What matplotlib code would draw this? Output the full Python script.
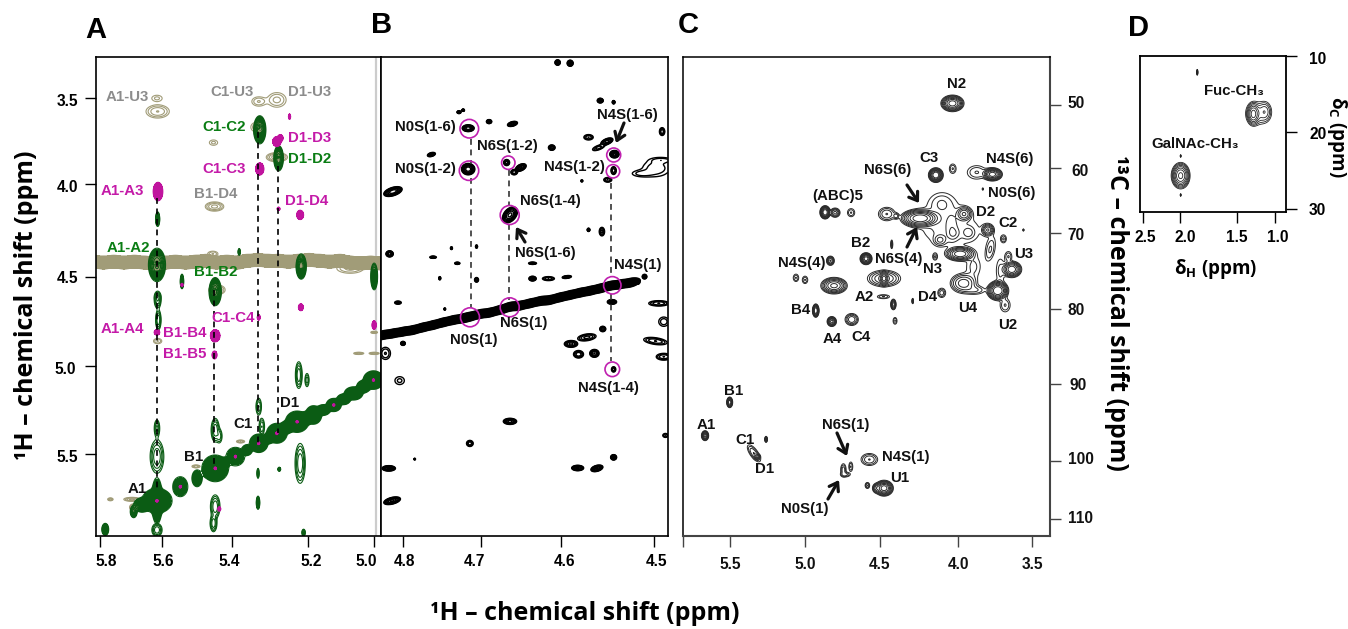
import numpy as np
import matplotlib
matplotlib.use("Agg")
import matplotlib.pyplot as plt
from matplotlib.transforms import Affine2D

W, H = 1348, 629
plt.rcParams['font.family'] = ['Liberation Sans', 'DejaVu Sans']
plt.rcParams['font.weight'] = 'bold'
plt.rcParams['mathtext.fontset'] = 'custom'
plt.rcParams['mathtext.rm'] = 'Open Sans:bold'
plt.rcParams['mathtext.bf'] = 'Open Sans:bold'
plt.rcParams['mathtext.it'] = 'Open Sans:bold'
plt.rcParams['mathtext.default'] = 'rm'

# ---------------- data: peaks are (1H ppm, y ppm, half-width x, half-width y, intensity[, tilt])
A_TAN = [
 (5.634,3.502,.015,.017,.2),(5.632,3.576,.034,.037,.5),(5.337,3.52,.02,.026,.3),(5.284,3.511,.027,.041,.35),
 (5.469,3.751,.012,.015,.2),(5.342,3.664,.018,.028,.3),(5.284,3.833,.031,.026,.8),(5.466,4.11,.027,.026,.6),
 (5.471,4.376,.015,.015,.3),(5.07,4.457,.039,.028,.35),(5.459,4.578,.024,.028,.6),(5.632,4.866,.012,.015,.3),
 (5.0,4.817,.01,.006,.4),(5.045,4.935,.015,.006,.5),(5.0,4.935,.015,.006,.5),(5.707,5.755,.024,.011,.6),
 (5.77,5.755,.008,.008,.4),(5.52,5.57,.012,.008,.5),(5.39,5.43,.012,.008,.5),(5.702,5.80,.012,.02,.6),
]
A_BAND_X = [5.82,5.79,5.76,5.73,5.70,5.67,5.64,5.61,5.58,5.55,5.52,5.49,5.46,5.43,5.40,5.37,5.34,5.31,5.28,5.25,5.22,5.19,5.16,5.13,5.10,5.07,5.04,5.01,4.98]
A_BAND_Y = [4.42,4.425,4.42,4.425,4.42,4.425,4.43,4.425,4.42,4.425,4.42,4.415,4.425,4.42,4.425,4.415,4.41,4.415,4.415,4.42,4.415,4.41,4.415,4.42,4.415,4.425,4.43,4.425,4.43]
A_GREEN = [
 (5.334,3.679,.018,.079,4),(5.279,3.839,.014,.071,4),(5.632,4.181,.006,.041,3),(5.634,4.438,.025,.094,5),
 (5.394,4.365,.003,.019,2),(5.213,4.447,.015,.071,4),(5.0,4.503,.01,.075,2),(5.561,4.531,.005,.041,2),
 (5.464,4.588,.018,.079,5),(5.634,5.763,.016,.13,4),(5.339,5.774,.005,.037,3),(5.339,5.609,.003,.028,1.2),
 (5.277,5.586,.004,.011,2),(5.785,5.924,.01,.034,2),(5.702,5.824,.01,.034,2),
]
A_GREEN_OPEN = [
 (5.632,4.616,.008,.022,.5),(5.632,4.635,.01,.047,.8),(5.63,4.747,.008,.056,.8),
 (5.22,5.057,.01,.075,.8),(5.196,5.085,.006,.037,.4),(5.337,5.234,.008,.047,.5),(5.328,5.347,.008,.047,.5),
 (5.634,5.356,.008,.047,.6),(5.464,5.366,.012,.066,.8),(5.634,5.515,.02,.094,.8),(5.452,5.40,.008,.037,.4),
 (5.216,5.553,.015,.112,.8),
 (5.464,5.796,.014,.066,.8),(5.469,5.89,.01,.047,.8),(5.634,5.927,.015,.037,.8),(5.206,5.942,.005,.019,1),
]
A_DIAG = [
 (5.634,5.763,.044,.07,6),(5.678,5.787,.024,.04,4),(5.566,5.684,.022,.056,1.2),(5.517,5.637,.015,.047,1.2),
 (5.464,5.581,.039,.075,6),(5.405,5.515,.027,.052,1.0),(5.337,5.440,.027,.052,3),(5.284,5.384,.03,.056,3),
 (5.225,5.319,.034,.06,5),(5.177,5.281,.024,.052,3),(5.118,5.225,.022,.037,3),(5.06,5.16,.027,.037,3),
 (5.002,5.085,.03,.052,4),(5.255,5.35,.02,.035,3),(5.2,5.30,.02,.035,3),(5.148,5.253,.02,.03,3),
 (5.089,5.193,.02,.03,3),(5.031,5.122,.02,.035,3),(5.371,5.478,.015,.03,2),(5.308,5.412,.015,.03,3),
 (5.435,5.549,.012,.025,1),(5.488,5.609,.01,.02,1),
]
A_MAGENTA = [
 (5.631,4.026,.014,.052,5),(5.284,3.745,.012,.028,5),(5.274,3.726,.008,.02,5),(5.334,3.899,.012,.034,5),
 (5.216,4.157,.01,.026,5),(5.279,4.123,.004,.009,3),(5.247,3.605,.003,.015,2),(5.634,4.817,.008,.015,4),
 (5.464,4.836,.014,.034,5),(5.466,4.944,.007,.022,5),(5.337,4.733,.004,.015,4),(5.214,4.676,.007,.019,5),
 (5.0,4.776,.006,.024,4),(5.561,4.55,.003,.008,2),(5.452,5.809,.004,.012,3),
 (5.634,5.763,.003,.007,3),(5.566,5.684,.003,.007,2),(5.405,5.515,.003,.007,2),(5.464,5.581,.003,.007,2),
 (5.337,5.440,.003,.007,2),(5.284,5.384,.003,.007,2),(5.225,5.319,.003,.006,2),(5.118,5.225,.003,.006,2),
 (5.002,5.085,.003,.006,2),
]
B_PEAKS = [
 (4.615,3.301,.0032,.015,3),(4.600,3.305,.0036,.017,3),(4.564,3.515,.0036,.013,3),(4.548,3.524,.0016,.009,3),
 (4.733,3.580,.0024,.0075,3),(4.728,3.569,.0016,.006,3),(4.722,3.670,.0072,.019,4),(4.697,3.633,.0032,.011,3),
 (4.669,3.646,.006,.013,2,1),(4.490,3.689,.0032,.022,.8),(4.578,3.721,.0056,.015,.5),(4.556,3.745,.0072,.017,2,1.5),
 (4.566,3.779,.0072,.013,.4,1.5),(4.622,3.779,.004,.015,1.5),(4.547,3.816,.0056,.021,3),(4.766,3.818,.0048,.011,1,1),
 (4.722,3.900,.008,.032,4),(4.676,3.863,.0036,.017,1.2),(4.659,3.891,.0064,.019,3,1.5),(4.667,3.917,.004,.015,.8),
 (4.548,3.908,.0032,.022,.4),(4.555,3.960,.0048,.013,.5),(4.586,3.966,.0012,.006,.5),(4.812,4.026,.011,.024,4,1.2),
 (4.672,4.157,.009,.041,3,2),(4.578,4.241,.0016,.009,2),(4.562,4.251,.0032,.024,.6),(4.816,4.376,.0044,.017,4),
 (4.764,4.395,.004,.006,1),(4.742,4.344,.0012,.0075,1),(4.712,4.335,.0012,.009,1),(4.735,4.429,.0032,.006,1),
 (4.645,4.429,.0048,.006,1.5),(4.756,4.513,.0012,.009,1),(4.712,4.522,.0024,.013,.7),(4.645,4.515,.0044,.013,3),
 (4.626,4.515,.0072,.011,.5),(4.604,4.506,.0056,.0075,1,.5),(4.519,4.535,.0024,.011,1.5),(4.511,4.504,.0028,.013,1),
 (4.497,3.895,.016,.045,.25),(4.515,3.925,.01,.015,.2),(4.49,3.85,.01,.012,.2),
 (4.806,4.650,.004,.009,.4),(4.750,4.686,.001,.006,1),(4.800,4.879,.0028,.011,2),(4.821,4.935,.006,.034,.3),
 (4.804,5.088,.0056,.022,.2),(4.550,4.646,.0056,.013,2),(4.494,4.654,.012,.015,.5),(4.488,4.757,.006,.026,.25),
 (4.561,4.798,.0036,.015,1.5),(4.580,4.845,.011,.019,.6,.6),(4.599,4.882,.008,.019,1),(4.590,4.940,.006,.021,.8),
 (4.571,4.935,.0056,.022,1.5),(4.498,4.866,.014,.019,.5,-.6),(4.488,4.954,.009,.019,.5),(4.548,5.025,.0026,.015,.4),
 (4.672,5.317,.008,.017,2),(4.720,5.441,.004,.017,.8),(4.786,5.529,.001,.004,1),(4.548,5.519,.0036,.015,3),
 (4.591,5.579,.0072,.015,3),(4.568,5.581,.0072,.017,3,1),(4.817,5.581,.008,.015,3),(4.813,5.763,.01,.019,3,1),
 (4.486,5.396,.0032,.011,.3),
]
B_DIAG_X = [4.824,4.812,4.800,4.788,4.776,4.764,4.752,4.740,4.728,4.720,4.708,4.696,4.684,4.672,4.660,4.648,4.636,4.624,4.612,4.600,4.588,4.576,4.564,4.552,4.540,4.528]
B_DIAG_Y = [4.832,4.823,4.813,4.804,4.789,4.776,4.761,4.748,4.738,4.729,4.714,4.706,4.691,4.673,4.667,4.654,4.641,4.635,4.620,4.607,4.594,4.583,4.570,4.555,4.547,4.538]
C_PEAKS = [
 (4.027,49.76,.077,1.22,6),(4.137,60.25,.049,1.07,8),(4.025,59.32,.022,.68,.3),(3.762,60.15,.066,.98,6),
 (3.866,59.86,.062,.98,.3),(3.826,62.3,.003,.15,1),(4.870,65.71,.035,.98,8),(4.804,65.76,.033,.68,1),
 (4.698,65.76,.024,.59,.3),(4.241,66.59,.132,1.37,7),(4.462,65.96,.055,.98,.5),(4.40,66.25,.018,.4,.4),
 (4.098,64.4,.05,.98,.2),(3.950,65.96,.053,1.07,1.5),(4.031,67.81,.026,1.46,.2),(4.02,68.79,.033,.73,.3),
 (3.921,68.69,.033,.73,.3),(4.109,69.76,.04,.78,.5),(3.793,68.3,.04,.88,1.5),(3.689,69.6,.018,.54,.3),
 (3.557,68.3,.003,.15,1),(4.429,70.4,.007,.63,.4),(3.777,71.2,.031,1.46,.3,20),(4.599,72.5,.04,.88,6),
 (3.976,71.8,.099,1.07,4),(4.142,72.2,.015,.49,.3),(3.888,73.7,.044,1.46,.2),(4.835,72.8,.026,.68,1.5),
 (5.063,75.3,.018,.54,.3),(5.003,75.6,.018,.54,.3),(4.811,76.45,.088,1.22,3),(4.480,75.4,.11,1.22,1),
 (4.48,75.4,.033,1.07,5),(3.954,76.1,.088,1.46,1.2),(3.877,77.1,.062,.59,.3),(4.098,77.5,.026,.68,.4),
 (3.634,74.06,.066,1.22,4),(3.656,72.2,.022,.73,.3),(3.71,74.3,.026,1.7,.2),(3.727,77.18,.073,1.46,8),
 (3.678,79.3,.033,.98,.3),(4.418,79.2,.018,.78,2),(4.29,78.7,.005,.39,1),(4.484,78.06,.04,.29,.3),
 (4.407,81.6,.013,.49,.3),(4.932,80.1,.022,.98,9),(4.826,81.7,.031,.73,3),(4.694,81.4,.044,.88,.8),
 (5.502,93.53,.02,.78,4),(5.665,98.41,.024,.73,3),(5.261,98.95,.009,.44,1.5),(5.341,101.0,.044,.88,.5,-20),
 (5.32,101.5,.02,.4,1.5),(4.749,103.4,.018,.88,.4),(4.70,102.95,.013,.68,.3),(4.735,104.1,.03,.34,.35),
 (4.577,101.9,.055,.88,.5),(4.59,105.7,.015,.44,.5),(4.48,106.1,.062,1.17,6),(4.53,106.1,.026,.68,1),
 (4.09,66.0,.10,2.3,.16),(4.0,68.5,.14,1.6,.15),
]
D_PEAKS = [
 (1.182,17.49,.116,1.44,.5),(1.228,17.58,.07,1.5,3),(1.105,17.28,.063,1.2,.6),(1.993,25.64,.10,1.74,5),
 (1.818,12.13,.007,.39,1),(1.993,23.07,.004,.17,1),(1.993,28.17,.004,.17,1),
]
LEVELS = 0.1 * 1.7 ** np.arange(0, 8)

A_XTICKS, A_XLABELS = [5.8,5.619,5.415,5.193,4.999], ['5.8','5.6','5.4','5.2','5.0']
AB_YTICKS, A_YLABELS = [3.5,3.986,4.506,5.006,5.5], ['3.5','4.0','4.5','5.0','5.5']
B_XTICKS, B_XLABELS = [4.8,4.7067,4.611,4.5], ['4.8','4.7','4.6','4.5']
C_XTICKS, C_XLABELS = [5.811,5.5,5.003,4.507,3.99,3.5], ['','5.5','5.0','4.5','4.0','3.5']
C_YTICKS, C_YLABELS = [50,59.18,68.7,79.91,90.85,102.08,110.6], ['50','60','70','80','90','100','110']
D_XTICKS, D_XLABELS = [2.389,2.0,1.4,1.0], ['2.5','2.0','1.5','1.0']
D_YTICKS, D_YLABELS = [10,19.93,30], ['10','20','30']

# ---------------- helpers
fig = plt.figure(figsize=(W/100, H/100), dpi=100, facecolor='white')
tpx = Affine2D().scale(1, -1).translate(0, H)

def make_ax(l, t, r, b, xlim, ylim):
    ax = fig.add_axes([l/W, 1-b/H, (r-l)/W, (b-t)/H])
    ax.set_xlim(*xlim); ax.set_ylim(*ylim)
    return ax

def field(X, Y, peaks):
    Z = np.zeros_like(X)
    for p in peaks:
        x, y, hx, hy, a = p[:5]
        k = p[5] if len(p) > 5 else 0
        dx = X - x
        dy = Y - y - k*dx
        Z += a*np.exp(-np.log(a/LEVELS[0])*((dx/hx)**2 + (dy/hy)**2))
    return Z

def draw(ax, peaks, color, lw, nx, ny, fill_from=None):
    xl, yl = ax.get_xlim(), ax.get_ylim()
    X, Y = np.meshgrid(np.linspace(xl[0], xl[1], nx), np.linspace(yl[0], yl[1], ny))
    Z = field(X, Y, peaks)
    if fill_from is not None:
        ax.contourf(X, Y, Z, levels=[LEVELS[fill_from], max(Z.max(), LEVELS[fill_from]*2)], colors=color)
    ax.contour(X, Y, Z, levels=LEVELS, colors=color, linewidths=lw)

def label(px, py, s, color='#111111', size=10.8, **kw):
    fig.text(px/W, 1-py/H, s, color=color, fontsize=size, fontweight='bold', ha='center', va='center', **kw)

def arrow(ax, x0, y0, x1, y1):
    ax.annotate('', xy=(x1, y1), xytext=(x0, y0), xycoords=tpx, textcoords=tpx, annotation_clip=False,
                arrowprops=dict(arrowstyle='->,head_length=0.55,head_width=0.38', lw=2.3, color='#111111', shrinkA=0, shrinkB=0))

def nudge(labels, offs):
    for t, (dx, dy) in zip(labels, offs):
        t.set_transform(t.get_transform() + Affine2D().translate(dx, dy))

def style(ax, color='k', lw=1.2):
    for s in ax.spines.values():
        s.set_linewidth(lw); s.set_color(color)
    ax.tick_params(axis='both', length=8, width=1.0, color=color, labelsize=11.2, pad=5)

# ---------------- panel A
axA = make_ax(96, 57, 381, 536, (5.812, 4.980), (5.961, 3.27))
band = [(x, y, .03, .036, 4) for x, y in zip(A_BAND_X, A_BAND_Y)]
axA.axvline(4.994, color='#cccccc', lw=1.6, zorder=0)
draw(axA, A_TAN, '#a19c78', .8, 760, 960)
draw(axA, band, '#a19c78', .8, 760, 960, fill_from=0)
draw(axA, A_GREEN + A_DIAG, '#0b5c14', .8, 760, 960, fill_from=1)
draw(axA, A_GREEN_OPEN, '#0b5c14', .8, 760, 960)
draw(axA, A_MAGENTA, '#c0149e', .8, 760, 960, fill_from=0)
for x, y0, y1 in [(5.634, 4.06, 5.70), (5.467, 4.58, 5.58), (5.339, 3.69, 5.45), (5.28, 3.885, 5.38)]:
    axA.plot([x, x], [y0, y1], color='k', lw=1.2, ls=(0, (3.5, 2.8)))
axA.set_xticks(A_XTICKS, A_XLABELS); axA.set_yticks(AB_YTICKS, A_YLABELS)
style(axA)
nudge(axA.get_xticklabels(), [(6,0),(1,0),(-3,0),(3,0),(-8,0)])
nudge(axA.get_yticklabels(), [(0,-2),(0,-2),(0,0),(-2,-2),(0,-2)])

# ---------------- panel B
axB = make_ax(381, 57, 667.7, 536, (4.8263, 4.4833), (5.961, 3.27))
diag = [(x, y, .012, .024, 3, 1.0) for x, y in zip(B_DIAG_X, B_DIAG_Y)]
draw(axB, B_PEAKS, 'k', 1.0, 860, 960)
draw(axB, diag, 'k', 1.0, 860, 960, fill_from=2)
for x, y0, y1 in [(4.719, 3.73, 3.87), (4.719, 3.95, 4.68), (4.673, 3.904, 4.10), (4.673, 4.21, 4.635),
                  (4.551, 3.98, 4.50), (4.551, 4.60, 4.98)]:
    axB.plot([x, x], [y0, y1], color='#333333', lw=1.2, ls=(0, (3.5, 2.8)))
axB.set_xticks(B_XTICKS, B_XLABELS); axB.set_yticks([])
style(axB)
nudge(axB.get_xticklabels(), [(2,0),(-7,0),(4,0),(3,0)])
for cx, cy, r in [(469.3,128.7,9.3),(469,170.7,9.7),(508.3,162.7,6.7),(509.7,215,9.5),(613.7,155,7),
                  (613,171.3,6.7),(612.3,285.3,8.7),(470,317.3,9.5),(509.7,307.3,9.5),(612.3,369.3,7.3)]:
    fig.add_artist(plt.Circle((cx, cy), r, transform=tpx, fill=False, ec='#c020b0', lw=1.2))
arrow(axB, 624, 123, 616, 143); arrow(axB, 525, 242, 516, 227)

# ---------------- panel C
axC = make_ax(683, 57, 1050, 536, (5.811, 3.381), (113.1, 42.97))
draw(axC, C_PEAKS, '#2a2a2a', .7, 1100, 1440)
axC.set_xticks(C_XTICKS, C_XLABELS); axC.yaxis.tick_right(); axC.set_yticks(C_YTICKS, C_YLABELS)
style(axC, '#444444', 1.5)
axC.spines['left'].set_color('k'); axC.spines['left'].set_linewidth(1.1)
axC.spines['top'].set_color('k'); axC.spines['top'].set_linewidth(1.1)
axC.tick_params(axis='both', labelcolor='#111111', pad=7)
nudge(axC.get_yticklabels(), [(-3,3),(1,-2),(-3,-1),(-3,0),(-1,0),(-3,3),(-3,2)])
arrow(axC, 907, 185, 919, 203); arrow(axC, 907, 247, 917, 227)
arrow(axC, 837, 433, 847, 456); arrow(axC, 828, 499, 839, 480)

# ---------------- panel D
axD = make_ax(1139.5, 56, 1286, 212, (2.426, 0.884), (30.39, 10))
draw(axD, D_PEAKS, '#222222', .6, 600, 640)
axD.set_xticks(D_XTICKS, D_XLABELS); axD.yaxis.tick_right(); axD.set_yticks(D_YTICKS, D_YLABELS)
style(axD, 'k', 1.3)
nudge(axD.get_xticklabels(), [(2,0),(5,0),(0,0),(3,0)])
nudge(axD.get_yticklabels(), [(5,-2),(5,-1),(5,0)])

# ---------------- annotations
GRAY, GREEN, MAG = '#8c8c8c', '#0a7d14', '#c41aa8'
for px, py, s, c in [
    (127,97,'A1-U3',GRAY),(232,92,'C1-U3',GRAY),(310,92,'D1-U3',GRAY),(216,194,'B1-D4',GRAY),
    (224,127,'C1-C2',GREEN),(310,159,'D1-D2',GREEN),(128,248,'A1-A2',GREEN),(216,272,'B1-B2',GREEN),
    (310,138,'D1-D3',MAG),(224,169,'C1-C3',MAG),(122,191,'A1-A3',MAG),(307,201,'D1-D4',MAG),
    (233,318,'C1-C4',MAG),(122,329,'A1-A4',MAG),(185,333,'B1-B4',MAG),(185,354,'B1-B5',MAG)]:
    label(px, py, s, c)
for px, py, s in [
    (290,403,'D1'),(243,424,'C1'),(194,457,'B1'),(137,489,'A1'),
    (425,127,'N0S(1-6)'),(425,169,'N0S(1-2)'),(507,146,'N6S(1-2)'),(627,115,'N4S(1-6)'),(574,167,'N4S(1-2)'),
    (550,201,'N6S(1-4)'),(545,253,'N6S(1-6)'),(638,265,'N4S(1)'),(524,323,'N6S(1)'),(474,340,'N0S(1)'),(608,388,'N4S(1-4)'),
    (957,84,'N2'),(929,158,'C3'),(1010,159,'N4S(6)'),(888,170,'N6S(6)'),(1012,193,'N0S(6)'),(838,196,'(ABC)5'),
    (986,212,'D2'),(1008,223,'C2'),(861,243,'B2'),(899,259,'N6S(4)'),(932,269,'N3'),(1024,254,'U3'),(802,263,'N4S(4)'),
    (864,297,'A2'),(928,297,'D4'),(968,308,'U4'),(1008,325,'U2'),(801,310,'B4'),(832,339,'A4'),(861,337,'C4'),
    (734,391,'B1'),(706,425,'A1'),(745,440,'C1'),(765,469,'D1'),(846,425,'N6S(1)'),(906,457,'N4S(1)'),(900,478,'U1'),(805,509,'N0S(1)'),
    (1234,91,'Fuc-CH₃'),(1195,144,'GalNAc-CH₃')]:
    label(px, py, s)
for px, py, s in [(96,30,'A'),(382,25,'B'),(688,25,'C'),(1139,28,'D')]:
    label(px, py, s, '#000000', 21)

TITLE = ['Open Sans', 'DejaVu Sans']
label(27, 305, '¹H – chemical shift (ppm)', 'k', 18, rotation=90, family=TITLE)
label(585, 613, '¹H – chemical shift (ppm)', 'k', 18, family=TITLE)
label(1117, 313, '¹³C – chemical shift (ppm)', 'k', 18, rotation=-90, family=TITLE)
label(1216, 269, r'$δ_H$ (ppm)', 'k', 13.5, family=TITLE)
label(1337, 137, r'$δ_C$ (ppm)', 'k', 13.5, rotation=-90, family=TITLE)

fig.savefig('out.png', dpi=100)
